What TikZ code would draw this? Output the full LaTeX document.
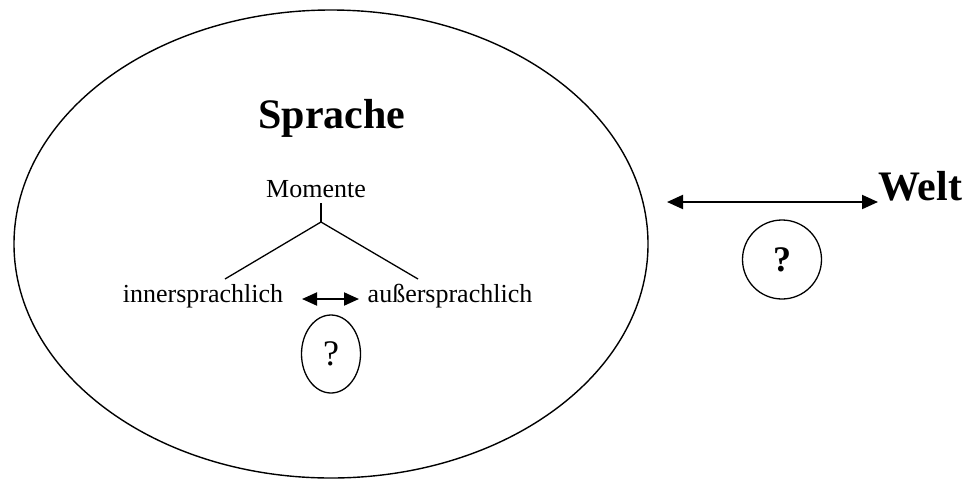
\documentclass[tikz,border=0pt]{standalone}
\usepackage{fontspec}
\setmainfont{Liberation Serif}
\usetikzlibrary{shapes.geometric,arrows.meta}
\begin{document}
\begin{tikzpicture}[x=1pt,y=-1pt,
  big/.style={font=\fontsize{42}{50}\selectfont\bfseries, inner sep=0pt, anchor=base},
  normal/.style={font=\fontsize{26}{31}\selectfont, inner sep=0pt, anchor=base},
  treeline/.style={line width=1.3pt},
  dblarrow/.style={line width=2pt, {Triangle[length=16pt,width=14pt]}-{Triangle[length=16pt,width=14pt]}},
  smallarrow/.style={line width=2pt, {Triangle[length=15pt,width=13pt]}-{Triangle[length=15pt,width=13pt]}}
]
\useasboundingbox (0,0) rectangle (971,480);
% big ellipse
\node[ellipse, draw, line width=1.4pt, minimum width=634pt, minimum height=468pt, inner sep=0pt] (sprachebox) at (331,244) {};
\node[big] (sprache) at (332,128) {Sprache};
\node[normal] (momente) at (316,197) {Momente};
\node[normal] (inner) at (203,302) {innersprachlich};
\node[normal] (ausser) at (450,302) {außersprachlich};
% tree
\coordinate (mtop) at (321,203);
\coordinate (junction) at (321,222);
\coordinate (lend) at (225,279);
\coordinate (rend) at (418,279);
\draw[treeline] (mtop) -- (junction);
\draw[treeline] (junction) -- (lend);
\draw[treeline] (junction) -- (rend);
% small arrow
\coordinate (sa1) at (302,299);
\coordinate (sa2) at (359,299);
\draw[smallarrow] (sa1) -- (sa2);
% small ellipse
\node[ellipse, draw, line width=1.3pt, minimum width=59pt, minimum height=78pt, inner sep=0pt,
  font=\fontsize{36}{40}\selectfont] (q1) at (331,354) {?};
% Welt
\node[big] (welt) at (920,200) {Welt};
\coordinate (ba1) at (667,202);
\coordinate (ba2) at (878,202);
\draw[dblarrow] (ba1) -- (ba2);
% circle
\node[circle, draw, line width=1.3pt, minimum size=79pt, inner sep=0pt,
  font=\fontsize{36}{40}\selectfont\bfseries] (q2) at (782,259.5) {?};
\end{tikzpicture}
\end{document}
